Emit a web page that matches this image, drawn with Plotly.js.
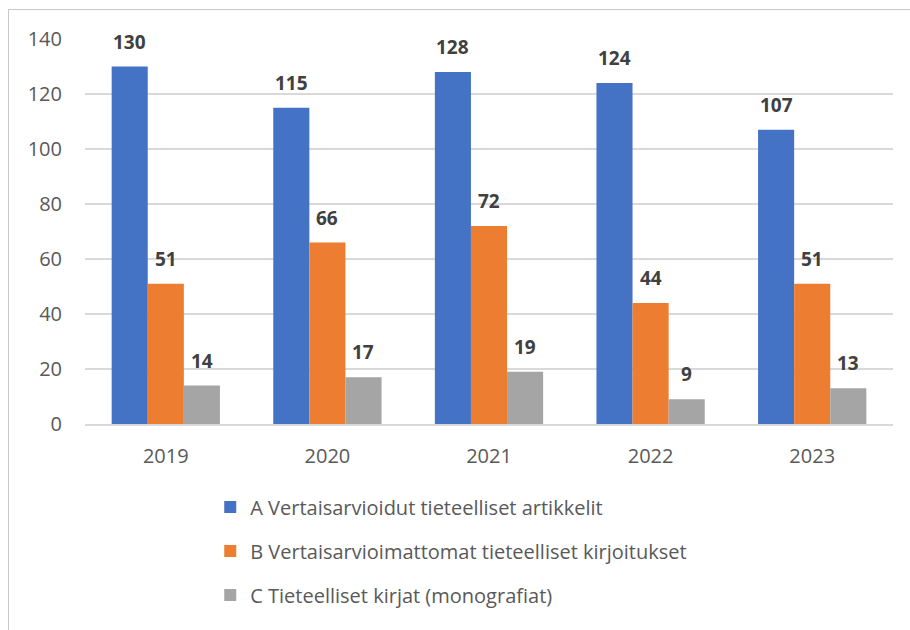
<!DOCTYPE html>
<html>
<head>
<meta charset="utf-8">
<script src="https://cdn.plot.ly/plotly-3.0.1.min.js"></script>
<style>
html,body{margin:0;padding:0;background:#fff;}
#frame{position:absolute;left:8px;top:9px;width:920px;height:640px;border:1.5px solid #c8c8c8;box-sizing:border-box;}
#chart{position:absolute;left:0;top:0;width:910px;height:630px;}
</style>
</head>
<body>
<div id="frame"></div>
<div id="chart"></div>
<script>
const years = ['2019', '2020', '2021', '2022', '2023'];
const seriesNames = [
  'A Vertaisarvioidut tieteelliset artikkelit',
  'B Vertaisarvioimattomat tieteelliset kirjoitukset',
  'C Tieteelliset kirjat (monografiat)'
];
const seriesA = [130, 115, 128, 124, 107];
const seriesB = [51, 66, 72, 44, 51];
const seriesC = [14, 17, 19, 9, 13];
const seriesColors = ['#4472C4', '#ED7D31', '#A5A5A5'];
const yTicks = [0, 20, 40, 60, 80, 100, 120, 140];

const allSeries = [seriesA, seriesB, seriesC];
const bargap = 0.33;
const barW = (1 - bargap) / allSeries.length;

const traces = allSeries.map((vals, i) => ({
  type: 'bar',
  x: years,
  y: vals,
  name: seriesNames[i],
  legendgroup: 'g' + i,
  marker: {color: seriesColors[i], line: {width: 0}},
  hoverinfo: 'none'
}));

const annotations = [];
allSeries.forEach((vals, i) => {
  vals.forEach((v, j) => {
    annotations.push({
      x: j + (i - (allSeries.length - 1) / 2) * barW,
      y: v,
      xref: 'x', yref: 'y',
      text: String(v),
      showarrow: false,
      yanchor: 'middle',
      yshift: 25,
      font: {family: 'Open Sans, sans-serif', size: 19, color: '#404040', weight: 'bold'}
    });
  });
});

const layout = {
  width: 910, height: 630,
  margin: {l: 85, r: 17, t: 39, b: 206},
  paper_bgcolor: 'rgba(0,0,0,0)',
  plot_bgcolor: 'rgba(0,0,0,0)',
  barmode: 'group',
  bargap: bargap,
  bargroupgap: 0,
  showlegend: true,
  legend: {
    orientation: 'v',
    x: 0.155, xanchor: 'left',
    y: -0.165, yanchor: 'top',
    tracegroupgap: 15,
    font: {family: 'Open Sans, sans-serif', size: 20, color: '#595959'},
    bgcolor: 'rgba(0,0,0,0)'
  },
  xaxis: {
    type: 'category',
    range: [-0.5, 4.5],
    showgrid: false,
    showline: true, linecolor: '#d9d9d9', linewidth: 1.5,
    ticks: '',
    ticklabelstandoff: 13,
    tickfont: {family: 'Open Sans, sans-serif', size: 20, color: '#595959'},
    fixedrange: true
  },
  yaxis: {
    range: [0, 140],
    tickvals: yTicks,
    showgrid: true, gridcolor: '#d9d9d9', gridwidth: 1.5,
    zeroline: false,
    showline: false,
    ticks: '',
    ticklabelstandoff: 22,
    tickfont: {family: 'Open Sans, sans-serif', size: 20, color: '#595959'},
    fixedrange: true
  },
  annotations: annotations
};

Plotly.newPlot('chart', traces, layout, {displayModeBar: false, staticPlot: true});
</script>
</body>
</html>
